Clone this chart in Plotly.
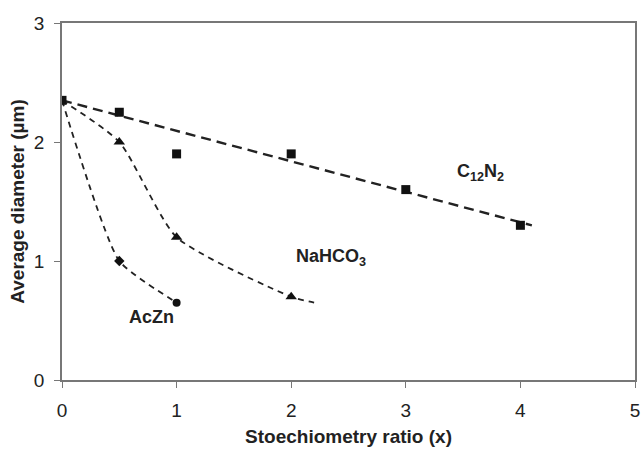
import numpy as np
import plotly.graph_objects as go

x_c12 = [0, 0.5, 1, 2, 3, 4]
y_c12 = [2.35, 2.25, 1.9, 1.9, 1.6, 1.3]
x_na = [0, 0.5, 1, 2]
y_na = [2.35, 2.0, 1.2, 0.7]
x_ac = [0, 0.5, 1]
y_ac = [2.35, 1.0, 0.65]

fig = go.Figure()

# linear trend for C12N2
coef = np.polyfit(x_c12, y_c12, 1)
xt = np.array([0, 4.1])
yt = np.polyval(coef, xt)
yt[0] = y_c12[0]
fig.add_trace(go.Scatter(x=xt, y=yt, mode="lines",
                         line=dict(color="#222", width=2.4, dash="10px,6px"), showlegend=False))

# smooth curve for NaHCO3, extended slightly
slope = (y_na[-1] - y_na[-2]) / (x_na[-1] - x_na[-2])
xn = list(x_na) + [2.2]
yn = list(y_na) + [y_na[-1] + 0.5 * slope * 0.2]
fig.add_trace(go.Scatter(x=xn, y=yn, mode="lines", line=dict(color="#222", width=1.8, dash="6px,5px",
                         shape="spline", smoothing=0.6), showlegend=False))

# smooth curve for AcZn
fig.add_trace(go.Scatter(x=x_ac, y=y_ac, mode="lines", line=dict(color="#222", width=1.8, dash="6px,5px",
                         shape="spline", smoothing=0.5), showlegend=False))

fig.add_trace(go.Scatter(x=x_c12, y=y_c12, mode="markers",
                         marker=dict(symbol="square", size=9, color="#111"), showlegend=False))
fig.add_trace(go.Scatter(x=x_na[1:], y=y_na[1:], mode="markers",
                         marker=dict(symbol="triangle-up", size=10, color="#111"), showlegend=False))
fig.add_trace(go.Scatter(x=x_ac[1:2], y=y_ac[1:2], mode="markers",
                         marker=dict(symbol="diamond", size=8, color="#111"), showlegend=False))
fig.add_trace(go.Scatter(x=x_ac[2:], y=y_ac[2:], mode="markers",
                         marker=dict(symbol="circle", size=8, color="#111"), showlegend=False))

FF = "Liberation Sans, Arial, sans-serif"
font_ann = dict(family=FF, size=18, color="#222")
fig.add_annotation(x=3.65, y=1.74, text="<b>C<sub>12</sub>N<sub>2</sub></b>", showarrow=False, font=font_ann)
fig.add_annotation(x=2.35, y=1.03, text="<b>NaHCO<sub>3</sub></b>", showarrow=False, font=font_ann)
fig.add_annotation(x=0.78, y=0.53, text="<b>AcZn</b>", showarrow=False, font=font_ann)

axis_common = dict(showgrid=False, zeroline=False, ticks="outside", ticklen=6,
                   tickcolor="#777", linecolor="#777", linewidth=1.5, showline=True,
                   tickfont=dict(family=FF, size=19, color="#222"))
fig.update_xaxes(range=[0, 5], dtick=1, mirror=True, ticklabelstandoff=6,
                 title=dict(text="<b>Stoechiometry ratio (x)</b>", standoff=10,
                            font=dict(family=FF, size=19, color="#222")),
                 **axis_common)
fig.update_yaxes(range=[0, 3], dtick=1, mirror=True, ticklabelstandoff=6,
                 title=dict(text="<b>Average diameter (µm)</b>", standoff=4,
                            font=dict(family=FF, size=19, color="#222")),
                 **axis_common)

fig.update_layout(width=644, height=452, margin=dict(l=62, r=4, t=23, b=72),
                  plot_bgcolor="white", paper_bgcolor="white")
fig.write_html("out.html")
